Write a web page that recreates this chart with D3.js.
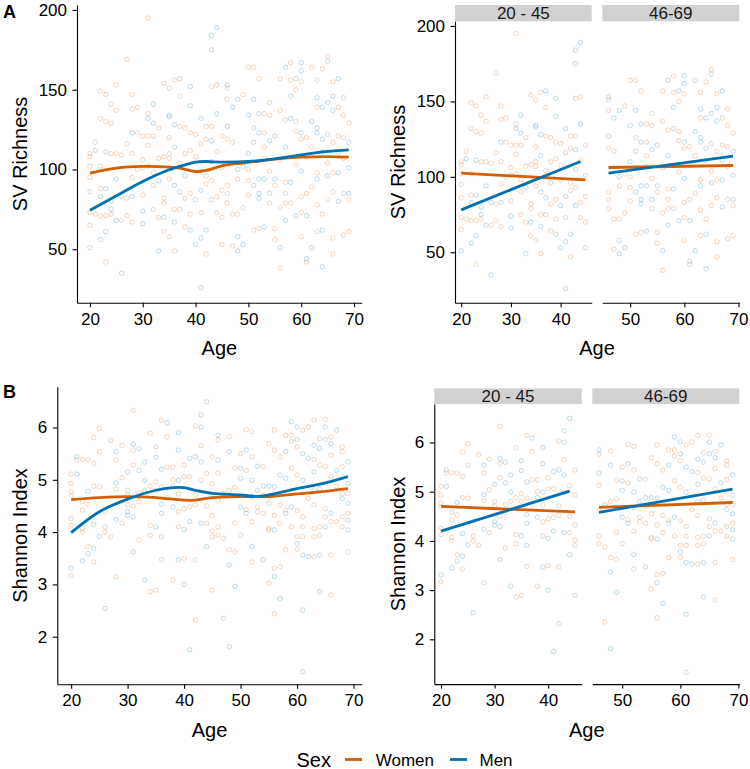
<!DOCTYPE html>
<html>
<head>
<meta charset="utf-8">
<script src="https://cdn.jsdelivr.net/npm/d3@7"></script>
<style>
  body { margin: 0; background: #fff; }
  svg { display: block; }
</style>
</head>
<body>
<svg id="chart" width="750" height="769"></svg>
<script>
// ── Data ────────────────────────────────────────────
// rows are [age, value, value, ...]
const richWomen = [
  [20,110,108,102,95,86,73,65],[21,117,72],[22,149,132,102,88,71],[23,147,130,71,42],
  [24,141,129,110,72],[25,153,137,110],[26,109,68],[27,169,116,82,71],[28,147,138,110,95,67],
  [29,139,123,100],[30,121,106,101,84],[31,195,135,121,115,102],[32,121,98,90,75],
  [33,126,107,70],[34,154,108,82,79,61],[35,151,120,110,107,94,58],[36,156,75,49],
  [37,146,127,104,75],[38,126,110,82,64],[39,123,112,85,72],[40,122,108,98],[41,116,73],
  [42,127,119,96,91,47],[43,152,127,93],[44,153,111,83,73],[45,121,101,87,70,53],
  [46,151,144,119,90,85,79],[47,117,72,52],[48,94,72],[49,147,102,76],[50,164,100,93,84],
  [51,164,126,62],[52,157,63],[53,135,123,114,107],[54,142,134,99,79],[55,90,63,56],
  [56,157,137,106,76,38],[57,131,92,85,79],[58,167,156,79],[59,150,130,124,103],
  [60,155,119,83,73,58],[61,120,108,85,42],[62,164,114,89],[63,156,139,98,78,61],
  [64,163,72],[65,171,122,104,81],[66,155,117,98,86,57,47],[67,139,121],
  [68,145,134,120,107,85,59],[69,129,81,61]
];
const richMen = [
  [20,51],[21,112],[22,83,56],[23,111,88,61],[24,80,75],[25,94,68],[26,83,35],[28,123,83],
  [30,74,66],[31,132],[32,141,129],[33,93,49],[34,70],[35,134,133],[36,128,114,90,67],
  [37,157,86],[38,96],[39,152,140,62],[40,81,53],[41,132,87,57,26],[42,62],
  [43,184,175,118,105,81],[44,189,135],[46,153,127],[47,139],[48,144,100,58,49],[49,53],
  [50,134,110],[51,144,117,90],[52,135,123,94,85,82],[53,94,64],[54,118,85],[55,121,94],
  [56,51],[57,164,114,68],[58,146,132,92],[59,157,71],[60,167,162,123,99],[61,71,44],
  [62,130,51],[63,145,126,123,94],[64,139,119,111,62,39],[65,168,142,96],[66,146,137],
  [67,157,111,98,80],[69,117,101,85]
];
const shanWomen = [
  [20,5.11,4.93,4.77,4.69,4.26,4.13,3.17],[21,5.38],[22,5.39,4.58,4.42,4.07,4.0],
  [23,5.38,4.53,3.72],[24,5.81,5.31,4.88,3.43],[25,5.98,5.54,4.87],[26,4.39,4.1,4.0],
  [27,5.75,3.91],[28,5.38,4.82,3.15],[29,5.66,5.04,4.17],[30,4.8,4.71,4.52],
  [31,6.33,5.57,5.28,4.5],[32,4.74,4.58,3.85],[33,4.8],[34,5.89,4.88,4.13,3.94,2.86],
  [35,4.96,4.8,2.89],[36,6.14,4.87,3.48],[37,5.82,5.24,4.66],[38,5.24,5.0,3.08],
  [39,4.73,4.39,4.1],[40,5.28,5.06,4.45,3.5],[41,5.06,4.48],[42,6.03,4.71,4.52,3.47,2.32],
  [43,5.65,4.99],[44,5.12,4.5,4.17],[45,5.44,4.93,4.32,4.02,3.91,2.89],
  [46,5.76,5.13,4.61,4.1,3.94],[47,3.88,2.35],[48,5.83,4.8,3.66],[49,5.23,4.85,4.17,3.62],
  [50,5.5,3.94],[51,5.96,5.18,4.43],[52,5.92,5.44,4.2,3.43],[53,4.48,4.39],
  [54,5.25,4.71,4.36],[55,5.69,4.55,4.07,4.04,3.02],[56,5.95,5.57,4.32,3.31,2.44],
  [57,5.44,4.52,4.17,3.34],[58,5.85,4.42,3.66],[59,5.85,5.73,5.22,4.1],
  [60,5.63,5.09,4.41,3.91,3.67],[61,5.95,4.29,4.1,3.91,1.33],[62,6.01,4.64],
  [63,6.14,5.39,4.52,4.07,3.91,3.53],[64,5.79,5.28,4.1,3.94],[65,6.15,5.26,4.45,4.29],
  [66,5.82,5.47,5.06,4.2,3.56,2.8],[67,4.87,4.2],[68,5.63,5.54,5.25,4.74,4.29,4.1],
  [69,4.74,4.36,3.62]
];
const shanMen = [
  [20,3.31],[21,5.44,5.11],[22,3.45],[23,4.78,3.59],[24,4.15,3.69],[25,3.92],[26,2.54],
  [28,5.54,4.94,4.24],[30,5.15,4.39,4.32],[31,5.68,4.29,3.62],[32,5.6,5.18],
  [33,5.34,4.99,3.08],[35,5.63,5.43,4.1],[36,5.2,4.53,4.36,3.91],[37,6.09],[38,4.88,4.48],
  [39,5.9,5.57,4.99,3.47],[40,4.05,3.0],[41,5.41,4.2,1.75],[42,5.44],[43,6.24,6.01,5.34,4.17],
  [44,6.49,3.72],[46,5.85,5.38],[47,4.74],[48,5.54,3.37,1.81],[49,2.96],[50,5.22,5.03,4.48],
  [51,5.57,4.36],[52,4.99,4.68,3.72],[53,5.26,4.8],[54,4.88,3.47],[55,4.88],
  [56,4.87,4.04,3.15],[57,5.09,2.73],[58,5.54,5.03,4.36],[59,6.11,4.48],[60,6.01,5.77,3.78],
  [61,5.5,4.99,3.56,2.51],[62,5.41,3.53],[63,5.66,5.15,4.8],[64,5.6,4.83,3.56,2.86],
  [65,6.01,5.77,4.1],[66,5.69,4.36],[67,5.95,5.18],[68,4.64],[69,5.34,4.93,4.55,4.23,4.04]
];

// smoothed (loess) curves, [age, fitted]
const loessRichWomen = [[20,97.7],[25,100.8],[30,101.9],[35,101.5],[37,100.8],[40,98.7],[42,99.4],[45,102.3],[50,104.4],[55,106.5],[60,107.7],[65,108.1],[69,107.7]];
const loessRichMen   = [[20,74.4],[25,83.5],[30,92.5],[35,99.8],[38,102.9],[40,104.6],[42,105],[45,104.6],[50,105],[55,106.7],[60,109.2],[65,111.3],[69,112.3]];
const loessShanWomen = [[20,4.62],[25,4.66],[30,4.68],[35,4.66],[40,4.61],[42,4.61],[45,4.66],[50,4.68],[55,4.68],[60,4.73],[65,4.78],[69,4.83]];
const loessShanMen   = [[20,3.99],[25,4.39],[30,4.63],[35,4.80],[38,4.85],[40,4.85],[42,4.80],[45,4.74],[50,4.71],[53,4.68],[55,4.71],[60,4.83],[65,4.94],[69,5.06]];

// linear fits per age group, [age, fitted] at both ends
const lmRichWomen = [[[20,102.4],[45,98.0]], [[46,106.2],[69,107.5]]];
const lmRichMen   = [[[20,78.1],[44,110.2]], [[46,102.4],[69,113.7]]];
const lmShanWomen = [[[20,4.70],[45,4.59]], [[46,4.68],[69,4.78]]];
const lmShanMen   = [[[20,4.20],[44,5.01]], [[46,4.58],[69,5.05]]];

const ageGroups   = ['20 - 45', '46-69'];
const groupRanges = [[20, 45], [46, 69]];
const ageRange    = [20, 69];
const xTicksAll   = [20, 30, 40, 50, 60, 70];
const xTicksGroup = [[20, 30, 40], [50, 60, 70]];
const richTicks   = [50, 100, 150, 200];
const shanTicks   = [2, 3, 4, 5, 6];
const richDomain  = [16.5, 203.1];
const shanDomain  = [1.09, 6.78];
const sexes       = ['Women', 'Men'];

// ── Styling ─────────────────────────────────────────
const FONT = "'Liberation Sans', Arial, Helvetica, sans-serif";
const COL  = { Women: '#D55E00', Men: '#0072B2' };
const fmt  = d3.format('d');

const svg = d3.select('#chart');

function flat(rows, sex) {
  const out = [];
  rows.forEach(([age, ...vals]) => vals.forEach(v => out.push({ age, v, sex })));
  return out;
}
function expand([a, b], f = 0.05) { const d = (b - a) * f; return [a - d, b + d]; }

const richPts = flat(richWomen, 'Women').concat(flat(richMen, 'Men'));
const shanPts = flat(shanWomen, 'Women').concat(flat(shanMen, 'Men'));

function styleAxis(ax) {
  ax.attr('font-family', FONT).attr('font-size', 17).attr('color', '#000');
  ax.selectAll('path,line').attr('stroke-width', 1.1);
  ax.selectAll('text').attr('fill', '#000');
}

function drawPanel(o) {
  const g = svg.append('g');
  const x = d3.scaleLinear().domain(o.xDom).range([o.x0, o.x1]);
  const y = d3.scaleLinear().domain(o.yDom).range([o.y1, o.y0]);

  if (o.strip) {
    g.append('rect').attr('x', o.x0).attr('y', o.strip[0])
      .attr('width', o.x1 - o.x0).attr('height', o.strip[1] - o.strip[0])
      .attr('fill', '#d1d1d1');
    g.append('text').attr('x', (o.x0 + o.x1) / 2).attr('y', (o.strip[0] + o.strip[1]) / 2)
      .attr('dy', '0.36em').attr('text-anchor', 'middle')
      .attr('font-family', FONT).attr('font-size', 17).attr('fill', '#1a1a1a')
      .text(o.label);
  }

  g.append('g').selectAll('circle').data(o.pts).join('circle')
    .attr('cx', d => x(d.age)).attr('cy', d => y(d.v)).attr('r', 2.2)
    .attr('fill', 'none').attr('stroke', d => COL[d.sex])
    .attr('stroke-width', 1).attr('stroke-opacity', 0.25);

  const line = d3.line().x(d => x(d[0])).y(d => y(d[1])).curve(o.curve || d3.curveLinear);
  o.fits.forEach(f => {
    g.append('path').attr('d', line(f.pts)).attr('fill', 'none')
      .attr('stroke', COL[f.sex]).attr('stroke-width', 2.8).attr('stroke-linecap', 'butt');
  });

  const ax = g.append('g').attr('transform', `translate(0,${o.y1})`)
    .call(d3.axisBottom(x).tickValues(o.xTicks).tickFormat(fmt)
      .tickSize(4.5).tickSizeOuter(0).tickPadding(5.5));
  styleAxis(ax);

  if (o.yTicks) {
    const ay = g.append('g').attr('transform', `translate(${o.x0},0)`)
      .call(d3.axisLeft(y).tickValues(o.yTicks).tickFormat(fmt)
        .tickSize(4.5).tickSizeOuter(0).tickPadding(5.5));
    styleAxis(ay);
  }
}

function yTitle(xBase, yMid, text) {
  svg.append('text').attr('transform', `translate(${xBase},${yMid}) rotate(-90)`)
    .attr('text-anchor', 'middle').attr('font-family', FONT).attr('font-size', 20)
    .attr('fill', '#000').text(text);
}
function xTitle(xMid, yBase) {
  svg.append('text').attr('x', xMid).attr('y', yBase).attr('text-anchor', 'middle')
    .attr('font-family', FONT).attr('font-size', 20).attr('fill', '#000').text('Age');
}

// ── Row A: SV richness ──────────────────────────────
drawPanel({
  x0: 77, x1: 361.7, y0: 5, y1: 302.7,
  xDom: expand(ageRange), yDom: richDomain, xTicks: xTicksAll, yTicks: richTicks,
  pts: richPts, curve: d3.curveCatmullRom,
  fits: [{ sex: 'Women', pts: loessRichWomen }, { sex: 'Men', pts: loessRichMen }]
});
yTitle(26.5, 153.9, 'SV Richness');
xTitle(219.4, 355);

const facetA = [[455, 591.7], [602.3, 739.3]];
groupRanges.forEach((r, i) => {
  drawPanel({
    x0: facetA[i][0], x1: facetA[i][1], y0: 21.3, y1: 302.8, strip: [5, 21.3], label: ageGroups[i],
    xDom: expand(r), yDom: richDomain, xTicks: xTicksGroup[i], yTicks: i === 0 ? richTicks : null,
    pts: richPts.filter(d => d.age >= r[0] && d.age <= r[1]),
    fits: [{ sex: 'Women', pts: lmRichWomen[i] }, { sex: 'Men', pts: lmRichMen[i] }]
  });
});
yTitle(405, 162, 'SV Richness');
xTitle(597, 355);

// ── Row B: Shannon index ────────────────────────────
drawPanel({
  x0: 57.3, x1: 361.7, y0: 386.7, y1: 684.3,
  xDom: expand(ageRange), yDom: shanDomain, xTicks: xTicksAll, yTicks: shanTicks,
  pts: shanPts, curve: d3.curveCatmullRom,
  fits: [{ sex: 'Women', pts: loessShanWomen }, { sex: 'Men', pts: loessShanMen }]
});
yTitle(26.5, 535.5, 'Shannon Index');
xTitle(209.5, 737);

const facetB = [[434.3, 581.7], [592.3, 739.3]];
groupRanges.forEach((r, i) => {
  drawPanel({
    x0: facetB[i][0], x1: facetB[i][1], y0: 404.1, y1: 684.1, strip: [388.3, 404.1], label: ageGroups[i],
    xDom: expand(r), yDom: shanDomain, xTicks: xTicksGroup[i], yTicks: i === 0 ? shanTicks : null,
    pts: shanPts.filter(d => d.age >= r[0] && d.age <= r[1]),
    fits: [{ sex: 'Women', pts: lmShanWomen[i] }, { sex: 'Men', pts: lmShanMen[i] }]
  });
});
yTitle(405, 544, 'Shannon Index');
xTitle(586.8, 737);

// ── Panel tags ──────────────────────────────────────
[['A', 17.5], ['B', 398]].forEach(([t, yb]) => {
  svg.append('text').attr('x', 3).attr('y', yb).attr('font-family', FONT)
    .attr('font-size', 18).attr('font-weight', 'bold').attr('fill', '#000').text(t);
});

// ── Legend ──────────────────────────────────────────
const leg = svg.append('g').attr('font-family', FONT).attr('fill', '#000');
leg.append('text').attr('x', 296.5).attr('y', 766.5).attr('font-size', 20).text('Sex');
const legX = { Women: [345, 375.7], Men: [450, 479.5] };
sexes.forEach(s => {
  leg.append('line').attr('x1', legX[s][0]).attr('x2', legX[s][0] + 17)
    .attr('y1', 759.5).attr('y2', 759.5).attr('stroke', COL[s]).attr('stroke-width', 2.8);
  leg.append('text').attr('x', legX[s][1]).attr('y', 765.8).attr('font-size', 17).text(s);
});
</script>
</body>
</html>
